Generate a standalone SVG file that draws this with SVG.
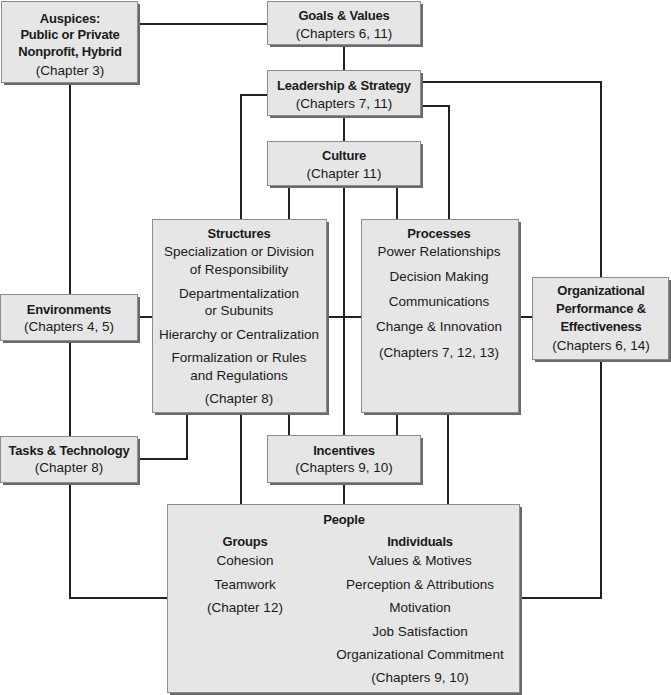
<svg xmlns="http://www.w3.org/2000/svg" width="671" height="695" viewBox="0 0 671 695">
<style>
.bg{fill:#ffffff}
.sh{fill:#6a6a6a}
.bx{fill:#e6e6e6;stroke:#8c8c8c;stroke-width:1}
.w{fill:none;stroke:#222;stroke-width:2}
text{font-family:"Liberation Sans",Arial,sans-serif;font-size:13.5px;fill:#1a1a1a;text-anchor:middle}
.b{font-weight:bold;font-size:13px;letter-spacing:-0.2px}
</style>
<rect class="bg" x="0" y="0" width="671" height="695"/>
<g id="connectors">
<path class="w" d="M137,24H267"/>
<path class="w" d="M70,83V294M70,341V436M70,482V598H167"/>
<path class="w" d="M344,44V70M344,116V141"/>
<path class="w" d="M267,95H241V219"/>
<path class="w" d="M420,82H601V277M601,360V598H519"/>
<path class="w" d="M420,106H449V219"/>
<path class="w" d="M289,186V219M397,186V219M344,186V435M344,483V504"/>
<path class="w" d="M137,317H152M326,317H361M518,317H532"/>
<path class="w" d="M187,412V459H137"/>
<path class="w" d="M241,412V504M448,412V504M289,412V435M397,412V435"/>
</g>
<g id="auspices">
<rect class="sh" x="4" y="4" width="136" height="81"/>
<rect class="bx" x="1.5" y="1.5" width="136" height="81"/>
<text class="b" x="70" y="23">Auspices:</text>
<text class="b" x="70" y="39">Public or Private</text>
<text class="b" x="70" y="56">Nonprofit, Hybrid</text>
<text x="70" y="75">(Chapter 3)</text>
</g>
<g id="goals">
<rect class="sh" x="270" y="4" width="153" height="43"/>
<rect class="bx" x="267.5" y="1.5" width="153" height="43"/>
<text class="b" x="344" y="20">Goals &amp; Values</text>
<text x="344" y="38">(Chapters 6, 11)</text>
</g>
<g id="leadership">
<rect class="sh" x="270" y="73" width="153" height="45"/>
<rect class="bx" x="267.5" y="70.5" width="153" height="45"/>
<text class="b" x="344" y="90">Leadership &amp; Strategy</text>
<text x="344" y="108">(Chapters 7, 11)</text>
</g>
<g id="culture">
<rect class="sh" x="270" y="144" width="153" height="44"/>
<rect class="bx" x="267.5" y="141.5" width="153" height="44"/>
<text class="b" x="344" y="160">Culture</text>
<text x="344" y="178">(Chapter 11)</text>
</g>
<g id="structures">
<rect class="sh" x="155" y="222" width="174" height="193"/>
<rect class="bx" x="152.5" y="219.5" width="174" height="193"/>
<text class="b" x="239" y="238">Structures</text>
<text x="239" y="256">Specialization or Division</text>
<text x="239" y="274">of Responsibility</text>
<text x="239" y="298">Departmentalization</text>
<text x="239" y="315">or Subunits</text>
<text x="239" y="339">Hierarchy or Centralization</text>
<text x="239" y="362">Formalization or Rules</text>
<text x="239" y="380">and Regulations</text>
<text x="239" y="403">(Chapter 8)</text>
</g>
<g id="processes">
<rect class="sh" x="364" y="222" width="157" height="193"/>
<rect class="bx" x="361.5" y="219.5" width="157" height="193"/>
<text class="b" x="439" y="238">Processes</text>
<text x="439" y="256">Power Relationships</text>
<text x="439" y="281">Decision Making</text>
<text x="439" y="306">Communications</text>
<text x="439" y="331">Change &amp; Innovation</text>
<text x="439" y="357">(Chapters 7, 12, 13)</text>
</g>
<g id="environments">
<rect class="sh" x="3" y="297" width="137" height="46"/>
<rect class="bx" x="0.5" y="294.5" width="137" height="46"/>
<text class="b" x="69" y="314">Environments</text>
<text x="69" y="331">(Chapters 4, 5)</text>
</g>
<g id="performance">
<rect class="sh" x="535" y="280" width="136" height="82"/>
<rect class="bx" x="532.5" y="277.5" width="136" height="82"/>
<text class="b" x="601" y="295">Organizational</text>
<text class="b" x="601" y="313">Performance &amp;</text>
<text class="b" x="601" y="331">Effectiveness</text>
<text x="601" y="350">(Chapters 6, 14)</text>
</g>
<g id="tasks">
<rect class="sh" x="3" y="439" width="137" height="46"/>
<rect class="bx" x="0.5" y="436.5" width="137" height="46"/>
<text class="b" x="69" y="455">Tasks &amp; Technology</text>
<text x="69" y="472">(Chapter 8)</text>
</g>
<g id="incentives">
<rect class="sh" x="270" y="438" width="153" height="47"/>
<rect class="bx" x="267.5" y="435.5" width="153" height="47"/>
<text class="b" x="344" y="455">Incentives</text>
<text x="344" y="472">(Chapters 9, 10)</text>
</g>
<g id="people">
<rect class="sh" x="170" y="507" width="352" height="188"/>
<rect class="bx" x="167.5" y="504.5" width="352" height="188"/>
<text class="b" x="344" y="524">People</text>
<text class="b" x="245" y="546">Groups</text>
<text x="245" y="565">Cohesion</text>
<text x="245" y="589">Teamwork</text>
<text x="245" y="612">(Chapter 12)</text>
<text class="b" x="420" y="546">Individuals</text>
<text x="420" y="565">Values &amp; Motives</text>
<text x="420" y="589">Perception &amp; Attributions</text>
<text x="420" y="612">Motivation</text>
<text x="420" y="636">Job Satisfaction</text>
<text x="420" y="659">Organizational Commitment</text>
<text x="420" y="682">(Chapters 9, 10)</text>
</g>
</svg>
